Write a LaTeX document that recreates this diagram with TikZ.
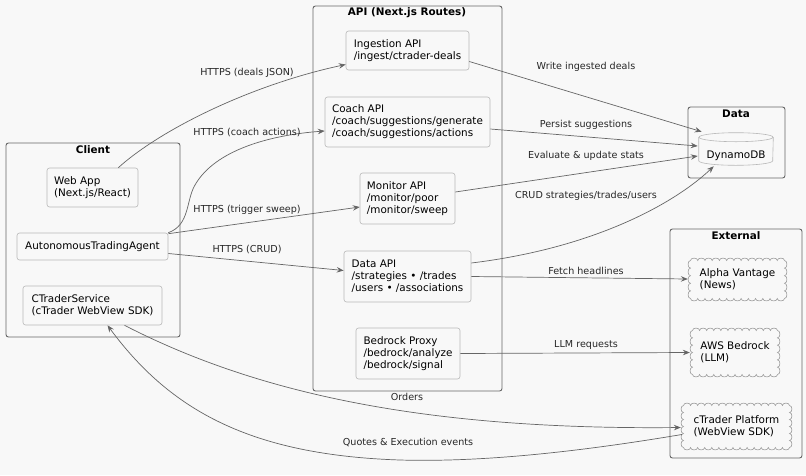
\documentclass[tikz,border=0pt]{standalone}
\usepackage{fontspec}
\setmainfont{DejaVu Sans}
\usetikzlibrary{calc,arrows.meta}
\definecolor{bgcol}{HTML}{F8F8F8}
\definecolor{grpcol}{HTML}{666666}
\definecolor{boxcol}{HTML}{B8B8B8}
\definecolor{wirecol}{HTML}{666666}

\begin{document}
\begin{tikzpicture}[x=1pt,y=-1pt,
    group/.style={draw=grpcol,line width=0.9pt,rounded corners=2.5pt},
    grouptitle/.style={font=\fontsize{10.4}{12}\selectfont\bfseries},
    route/.style={draw=boxcol,line width=0.6pt,rounded corners=2.5pt,fill=bgcol,align=left,inner sep=0pt,font=\fontsize{10.4}{12}\selectfont},
    extnode/.style={align=left,inner sep=0pt,font=\fontsize{10.4}{12}\selectfont},
    cloudline/.style={draw=boxcol!85!black,line width=0.6pt,fill=bgcol},
    wire/.style={draw=wirecol,line width=0.7pt,-{Stealth[length=7pt,width=5.5pt,inset=2.5pt]}},
    lbl/.style={font=\fontsize{9.6}{11}\selectfont,text=black!85}]
      \fill[bgcol] (0,0) rectangle (806,475);
      \draw[group] (6,143) rectangle (180,337);
      \draw[group] (313,6) rectangle (502,391);
      \draw[group] (688,107) rectangle (785,178);
      \draw[group] (670,229) rectangle (802,458);
      \node[grouptitle] at (93,150) {Client};
      \node[grouptitle] at (407,13) {API (Next.js Routes)};
      \node[grouptitle] at (736,114) {Data};
      \node[grouptitle] at (736,236) {External};
      \node[route,minimum width=91pt,minimum height=39pt] (webapp) at (92.5,187.5) {Web App\\(Next.js/React)};
      \node[route,minimum width=151pt,minimum height=27pt] (agent) at (92.5,246.5) {AutonomousTradingAgent};
      \node[route,minimum width=139pt,minimum height=39pt] (ctsvc) at (92.5,305.5) {CTraderService\\(cTrader WebView SDK)};
      \node[route,minimum width=123pt,minimum height=39pt] (ingest) at (407.5,50.5) {Ingestion API\\/ingest/ctrader-deals};
      \node[route,minimum width=165pt,minimum height=50pt] (coach) at (407.5,122) {Coach API\\/coach/suggestions/generate\\/coach/suggestions/actions};
      \node[route,minimum width=95pt,minimum height=51pt] (monitor) at (407.5,198.5) {Monitor API\\/monitor/poor\\/monitor/sweep};
      \node[route,minimum width=127pt,minimum height=51pt] (dataapi) at (407.5,276.5) {Data API\\/strategies • /trades\\/users • /associations};
      \node[route,minimum width=104pt,minimum height=51pt] (bedrock) at (408,353.5) {Bedrock Proxy\\/bedrock/analyze\\/bedrock/signal};
      \node[route,draw=none,fill=none,minimum width=74pt,minimum height=18pt] (dynamo) at (736,156) {};
      \fill[bgcol] ($(dynamo.north west)+(0,-9.5)$) rectangle ($(dynamo.south east)+(0,-4.5)$);
      \draw[boxcol,line width=0.6pt,fill=bgcol] ($(dynamo.north west)+(0,-9.5)$) -- ($(dynamo.south west)+(0,-4.5)$) arc[start angle=180,end angle=360,x radius=37pt,y radius=4.5pt] -- ($(dynamo.north east)+(0,-9.5)$);
      \draw[boxcol,line width=0.6pt,fill=bgcol] ($(dynamo.north)+(0,-9.5)$) ellipse[x radius=37pt,y radius=4.5pt];
      \node[font=\fontsize{10.4}{12}\selectfont] at (dynamo) {DynamoDB};
      \foreach \cx/\cy/\w/\h/\nx/\ny in {737.5/279.5/94/38/13/5, 735/352.5/85/44/12/6, 736.5/426.5/106/42/15/6} {
        \pgfmathsetmacro\dx{\w/\nx}
        \pgfmathsetmacro\dy{\h/\ny}
        \draw[cloudline] (\cx-\w/2,\cy-\h/2)
          \foreach \i in {1,...,\nx} { .. controls +(0,-3.2) and +(0,-3.2) .. ++(\dx,0) }
          \foreach \i in {1,...,\ny} { .. controls +(3.2,0) and +(3.2,0) .. ++(0,\dy) }
          \foreach \i in {1,...,\nx} { .. controls +(0,3.2) and +(0,3.2) .. ++(-\dx,0) }
          \foreach \i in {1,...,\ny} { .. controls +(-3.2,0) and +(-3.2,0) .. ++(0,-\dy) } -- cycle;
      }
      \node[extnode,minimum width=99pt,minimum height=43pt] (alpha) at (737.5,279) {Alpha Vantage\\(News)};
      \node[extnode,minimum width=90pt,minimum height=49pt] (aws) at (735,352.5) {AWS Bedrock\\(LLM)};
      \node[extnode,minimum width=111pt,minimum height=47pt] (ctplat) at (736.5,426.5) {cTrader Platform\\(WebView SDK)};
      \draw[wire] ($(webapp.north east)+(-20,0)$) .. controls (160,130) and (250,85) .. ($(ingest.west)+(0,14)$);
      \draw[wire] (agent.north east) .. controls (190,225) and (186,200) .. (195,185) .. controls (215,150) and (270,135) .. ($(coach.west)+(0,9)$);
      \draw[wire] ($(agent.north east)+(0,1)$) -- ($(monitor.west)+(0,8.5)$);
      \draw[wire] ($(agent.east)+(0,7)$) -- ($(dataapi.west)+(0,-6)$);
      \draw[wire] ($(ingest.east)+(0,11)$) -- ($(dynamo.north west)+(3,-15)$);
      \draw[wire] ($(coach.east)+(0,7)$) -- ($(dynamo.west)+(-1,-10)$);
      \draw[wire] ($(monitor.east)+(0,-6.5)$) -- ($(dynamo.west)+(-1,0)$);
      \draw[wire] ($(dataapi.east)+(0,-13.5)$) .. controls (595,248) and (675,203) .. ($(dynamo.south west)+(15,1)$);
      \draw[wire] (dataapi.east) -- (alpha.west);
      \draw[wire] (bedrock.east) -- (aws.west);
      \draw[wire] ($(ctsvc.south)+(32,0)$) .. controls (260,395) and (430,430) .. ($(ctplat.west)+(0,1)$);
      \draw[wire] ($(ctplat.west)+(1,8)$) .. controls (560,455) and (470,462) .. (400,460) .. controls (250,455) and (170,410) .. ($(ctsvc.south)+(15,0)$);
      \node[lbl] at (247,73) {HTTPS (deals JSON)};
      \node[lbl] at (247,132) {HTTPS (coach actions)};
      \node[lbl] at (247,210) {HTTPS (trigger sweep)};
      \node[lbl] at (247,249) {HTTPS (CRUD)};
      \node[lbl] at (586,67) {Write ingested deals};
      \node[lbl] at (586,125) {Persist suggestions};
      \node[lbl] at (586,156) {Evaluate \& update stats};
      \node[lbl] at (586,196) {CRUD strategies/trades/users};
      \node[lbl] at (586,271) {Fetch headlines};
      \node[lbl] at (586,345) {LLM requests};
      \node[lbl] at (407,397) {Orders};
      \node[lbl] at (408,442) {Quotes \& Execution events};
\end{tikzpicture}
\end{document}
